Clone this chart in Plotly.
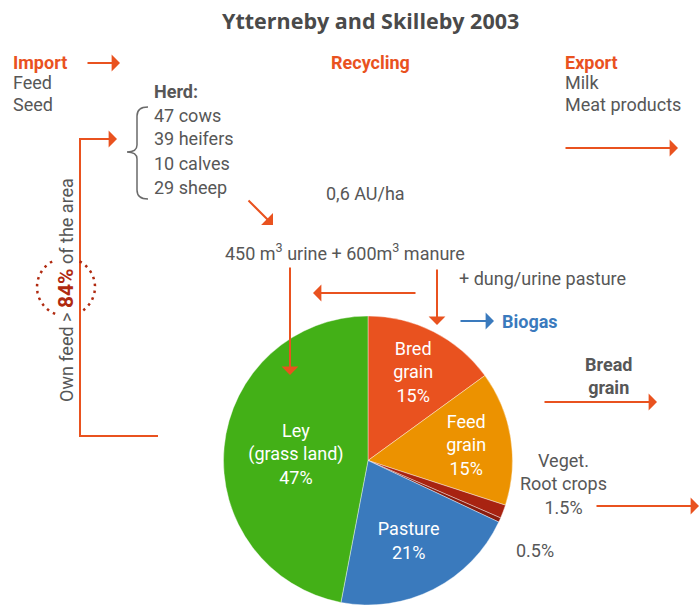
import math
import plotly.graph_objects as go

# ---- data -------------------------------------------------------------
slice_names = ["Bred grain", "Feed grain", "Veget. Root crops", "Minor", "Pasture", "Ley (grass land)"]
slice_captions = ["Bred<br>grain", "Feed<br>grain", "", "", "Pasture", "Ley<br>(grass land)"]
slice_shares = [15, 15, 1.5, 0.5, 21, 47]
slice_colors = ["#e9521f", "#ec9200", "#a82311", "#8a1c0e", "#3a7abd", "#43b017"]

herd_counts = [47, 39, 10, 29]
herd_kinds = ["cows", "heifers", "calves", "sheep"]
import_items = ["Feed", "Seed"]
export_items = ["Milk", "Meat products"]
own_feed_share = 84
stocking_rate = "0,6"
urine_m3 = 450
manure_m3 = 600

# ---- styling helpers --------------------------------------------------
W, H = 700, 605
FONT = "Roboto"
TITLE_FONT = "Open Sans"
GRAY = "#575757"
ORANGE = "#e9521f"
BLUE = "#3a7abd"
DARKRED = "#b02a10"
BODY = 18


def px(x):
    return x / W


def py(y):
    return 1 - y / H


annotations = []
shapes = []


def label(x, y, text, size=BODY, color=GRAY, anchor="left", bold=False, family=FONT, **kw):
    if bold:
        text = f"<b>{text}</b>"
    annotations.append(dict(
        x=px(x), y=py(y), xref="paper", yref="paper", text=text,
        showarrow=False, xanchor=anchor, yanchor="middle",
        font=dict(family=family, size=size, color=color), **kw))


def arrow(x0, y0, x1, y1, color=ORANGE):
    annotations.append(dict(
        x=px(x1), y=py(y1), xref="paper", yref="paper", text="",
        showarrow=True, ax=x0 - x1, ay=y0 - y1, axref="pixel", ayref="pixel",
        arrowhead=1, arrowsize=1.4, arrowwidth=2, arrowcolor=color, standoff=0))


def path_shape(points, color, width=2, dash="solid"):
    d = "M " + " L ".join(f"{px(x):.5f},{py(y):.5f}" for x, y in points)
    shapes.append(dict(type="path", xref="paper", yref="paper", path=d,
                       line=dict(color=color, width=width, dash=dash)))


# ---- pie --------------------------------------------------------------
pie_text = [f"{c}<br>{v:g}%" if c else "" for c, v in zip(slice_captions, slice_shares)]
pie_textpos = ["inside" if c else "none" for c in slice_captions]

fig = go.Figure(go.Pie(
    labels=slice_names, values=slice_shares, text=pie_text,
    textinfo="text", textposition=pie_textpos, insidetextorientation="horizontal",
    textfont=dict(family=FONT, size=BODY, color="white"),
    marker=dict(colors=slice_colors, line=dict(color="white", width=0.4)),
    sort=False, direction="clockwise", rotation=0, showlegend=False,
    hoverinfo="label+percent",
    domain=dict(x=[px(222.5), px(513.5)], y=[0, py(316)]),
))

# ---- texts ------------------------------------------------------------
label(370, 21, "Ytterneby and Skilleby 2003", size=21.5, color="#4a4a4a",
      anchor="center", bold=True, family=TITLE_FONT)

label(11, 62, "Import", color=ORANGE, bold=True)
for i, item in enumerate(import_items):
    label(11, 83 + 21 * i, item)

label(370, 62, "Recycling", color=ORANGE, anchor="center", bold=True)

label(563, 62, "Export", color=ORANGE, bold=True)
for i, item in enumerate(export_items):
    label(563, 83 + 21 * i, item)

label(152, 92, "Herd:", bold=True)
for i, (n, kind) in enumerate(zip(herd_counts, herd_kinds)):
    label(152, 115 + 24 * i, f"{n} {kind}")

label(365, 193, f"{stocking_rate} AU/ha", anchor="center")
label(345, 252, f"{urine_m3} m<sup>3</sup> urine + {manure_m3}m<sup>3</sup> manure", anchor="center")
label(457, 278, "+ dung/urine pasture")
label(500, 321, "Biogas", color=BLUE, bold=True)
label(608, 376, "Bread<br>grain", anchor="center", bold=True)
label(563, 484, f"Veget.<br>Root crops<br>{slice_shares[2]:g}%", anchor="center")
label(535, 550, f"{slice_shares[3]:g}%", anchor="center")

label(66, 290,
      f"Own feed &gt; <b><span style='color:{DARKRED};font-size:21px'>{own_feed_share}%</span></b> of the area",
      anchor="center", textangle=-90)

# ---- arrows -----------------------------------------------------------
arrow(86, 63, 120, 63)
arrow(564, 148, 678, 148)
arrow(100, 139, 117, 139)
arrow(247, 199, 273, 225)
arrow(290, 266, 290, 375)
arrow(437, 268, 437, 325)
arrow(417, 293, 313, 293)
arrow(459, 321, 494, 321, color=BLUE)
arrow(543, 402, 657, 402)
arrow(595, 506, 704, 506)

# own-feed bracket line
path_shape([(158, 436), (80, 436), (80, 139), (104, 139)], ORANGE, width=2)

# herd brace
shapes.append(dict(
    type="path", xref="paper", yref="paper",
    path=(f"M {px(148)},{py(107)} Q {px(137)},{py(107)} {px(137)},{py(116)} "
          f"L {px(137)},{py(145)} Q {px(137)},{py(152)} {px(127)},{py(152)} "
          f"Q {px(137)},{py(152)} {px(137)},{py(159)} "
          f"L {px(137)},{py(190)} Q {px(137)},{py(199)} {px(148)},{py(199)}"),
    line=dict(color="#6a6a6a", width=1.5)))

# dotted ring around the own-feed share
cx, cy, r = 66, 287, 29
for a0, a1 in [(112, 248), (-62, 58)]:
    pts = []
    for k in range(25):
        a = math.radians(a0 + (a1 - a0) * k / 24)
        pts.append((cx + r * math.cos(a), cy + r * math.sin(a)))
    path_shape(pts, DARKRED, width=2.5, dash="2.5px,4.5px")

fig.update_layout(
    width=W, height=H, margin=dict(l=0, r=0, t=0, b=0),
    paper_bgcolor="white", plot_bgcolor="white",
    annotations=annotations, shapes=shapes,
    font=dict(family=FONT, color=GRAY),
)

fig.write_html("out.html")
